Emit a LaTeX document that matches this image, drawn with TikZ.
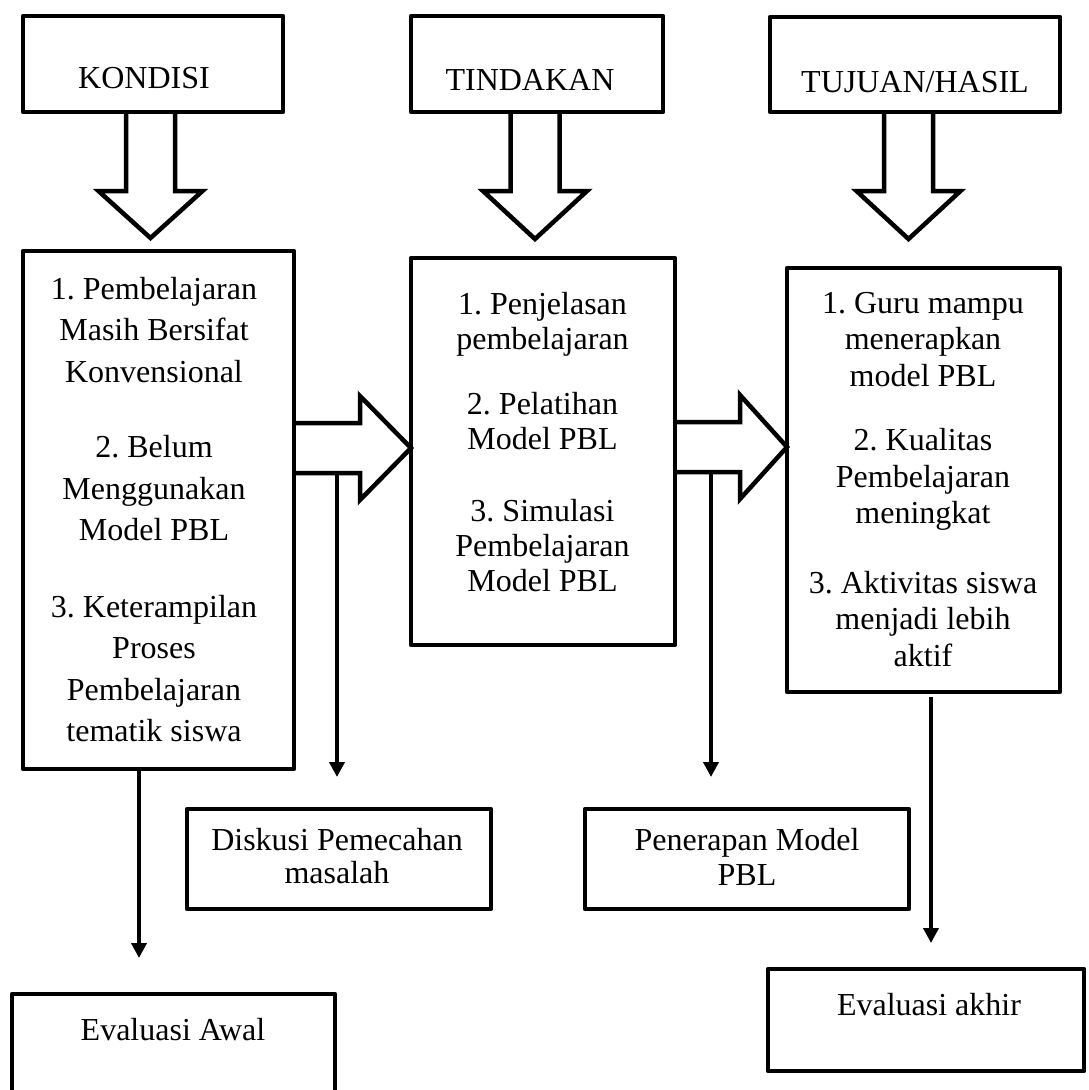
\documentclass[tikz,border=0pt]{standalone}
\usepackage{fontspec}
\setmainfont{Liberation Serif}
\usetikzlibrary{calc,arrows.meta}
\frenchspacing
\begin{document}
\begin{tikzpicture}[x=1pt,y=-1pt,
  box/.style={draw, line width=4.5pt, inner sep=0pt, outer sep=0pt, anchor=north west, line join=round},
  lbl/.style={inner sep=0pt, outer sep=0pt, font=\fontsize{32}{36}\selectfont, align=center},
  blk/.style={draw, line width=4.5pt, line join=miter},
  tarr/.style={line width=4.5pt, -{Triangle[width=15pt,length=15pt]}}]
\useasboundingbox (0,0) rectangle (1088,1090);
\clip (0,0) rectangle (1088,1090);

% header boxes
\node[box, minimum width=260pt, minimum height=96pt] (hk) at (23,16) {};
\node[box, minimum width=252pt, minimum height=96pt] (ht) at (411,16) {};
\node[box, minimum width=290pt, minimum height=95pt] (hu) at (770,17) {};
\node[lbl, anchor=base] (hkt) at (144,88) {KONDISI};
\node[lbl, anchor=base] (htt) at (530,90) {TINDAKAN};
\node[lbl, anchor=base] (hut) at (915,92) {TUJUAN/HASIL};

% main boxes
\node[box, minimum width=271pt, minimum height=518pt] (k1) at (23,251) {};
\node[box, minimum width=264pt, minimum height=387pt] (t1) at (411,258) {};
\node[box, minimum width=273pt, minimum height=424pt] (r1) at (787,268) {};

\node[lbl, anchor=north, font=\fontsize{32}{41.5}\selectfont] (k1t) at (154,275)
  {\rule{0pt}{24pt}1. Pembelajaran\\Masih Bersifat\\Konvensional\\[34pt]2. Belum\\Menggunakan\\Model PBL\\[35pt]3. Keterampilan\\Proses\\Pembelajaran\\tematik siswa};
\node[lbl, anchor=north, font=\fontsize{32}{35}\selectfont] (t1t) at (542.5,290)
  {\rule{0pt}{24pt}1. Penjelasan\\pembelajaran\\[30pt]2. Pelatihan\\Model PBL\\[37pt]3. Simulasi\\Pembelajaran\\Model PBL};
\node[lbl, anchor=north, font=\fontsize{32}{36.5}\selectfont] (r1t) at (923,289)
  {\rule{0pt}{24pt}1. Guru mampu\\menerapkan\\model PBL\\[28pt]2. Kualitas\\Pembelajaran\\meningkat\\[33pt]3. Aktivitas siswa\\menjadi lebih\\aktif};

% lower boxes
\node[box, minimum width=304pt, minimum height=100pt] (dk) at (187,809) {};
\node[box, minimum width=324pt, minimum height=100pt] (pn) at (585,809) {};
\node[box, minimum width=323pt, minimum height=130pt] (ea) at (12,994) {};
\node[box, minimum width=316pt, minimum height=102pt] (eak) at (768,969) {};
\node[lbl, anchor=north, font=\fontsize{32}{33}\selectfont] (dkt) at (337,826)
  {\rule{0pt}{24pt}Diskusi Pemecahan\\masalah};
\node[lbl, anchor=north, font=\fontsize{32}{35}\selectfont] (pnt) at (747,826)
  {\rule{0pt}{24pt}Penerapan Model\\PBL};
\node[lbl, anchor=base] (eat) at (173,1040) {Evaluasi Awal};
\node[lbl, anchor=base] (eakt) at (929,1015) {Evaluasi akhir};

% down block arrows
\coordinate (kx) at ($(hk.south)+(-2.5,0)$);
\coordinate (tx) at ($(ht.south)+(-2,0)$);
\coordinate (ux) at ($(hu.south)+(-6.5,0)$);
\draw[blk] ($(kx)+(-24.5,0)$) -- ++(0,79) -- ++(-27.5,0) -- ($(k1.north -| kx)+(0,-13)$)
  -- ($(kx)+(52,79)$) -- ++(-27.5,0) -- ($(kx)+(24.5,0)$);
\draw[blk] ($(tx)+(-24.5,0)$) -- ++(0,79) -- ++(-27.5,0) -- ($(t1.north -| tx)+(0,-19)$)
  -- ($(tx)+(52,79)$) -- ++(-27.5,0) -- ($(tx)+(24.5,0)$);
\draw[blk] ($(ux)+(-24.5,0)$) -- ++(0,79) -- ++(-27.5,0) -- ($(r1.north -| ux)+(0,-29)$)
  -- ($(ux)+(52,79)$) -- ++(-27.5,0) -- ($(ux)+(24.5,0)$);

% right block arrows
\coordinate (yk) at (0,448);
\coordinate (yr) at (0,447);
\draw[blk] ($(k1.east |- yk)+(0,-25)$) -- ++(66,0) -- ++(0,-27) -- (t1.west |- yk)
  -- ($(k1.east |- yk)+(66,52)$) -- ++(0,-27) -- ($(k1.east |- yk)+(0,25)$);
\draw[blk] ($(t1.east |- yr)+(0,-25)$) -- ++(65,0) -- ++(0,-27) -- (r1.west |- yr)
  -- ($(t1.east |- yr)+(65,52)$) -- ++(0,-27) -- ($(t1.east |- yr)+(0,25)$);

% thin arrows
\coordinate (dks) at (337,475);
\coordinate (pns) at (711,474);
\coordinate (xea) at (139,0);
\coordinate (xek) at (931,0);
\draw[tarr] (dks) -- ($(dk.north -| dks)+(0,-32)$);
\draw[tarr] (pns) -- ($(pn.north -| pns)+(0,-32)$);
\draw[tarr] (k1.south -| xea) -- ($(ea.north -| xea)+(0,-36)$);
\draw[tarr] ($(r1.south -| xek)+(0,5)$) -- ($(eak.north -| xek)+(0,-26)$);
\end{tikzpicture}
\end{document}
